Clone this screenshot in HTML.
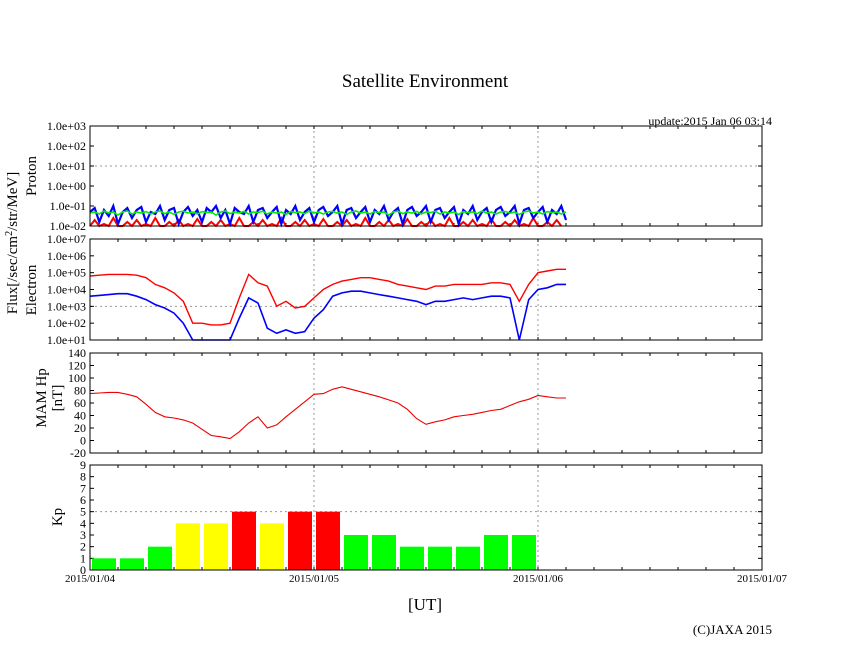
<!DOCTYPE html>
<html><head><meta charset="utf-8"><style>
body{margin:0;background:#fff;}
svg text{font-family:"Liberation Serif",serif;fill:#000;}
</style></head><body>
<svg id="c" width="846" height="655" xmlns="http://www.w3.org/2000/svg">
<text x="425" y="87" font-size="19" text-anchor="middle">Satellite Environment</text>
<text x="772" y="125" font-size="12" text-anchor="end">update:2015 Jan 06 03:14</text>
<text transform="translate(17,243) rotate(-90)" font-size="15" text-anchor="middle">Flux[/sec/cm<tspan dy="-5" font-size="10">2</tspan><tspan dy="5">/str/MeV]</tspan></text>
<text transform="translate(36,176) rotate(-90)" font-size="15" text-anchor="middle">Proton</text>
<text transform="translate(36,290) rotate(-90)" font-size="15" text-anchor="middle">Electron</text>
<text transform="translate(46,398) rotate(-90)" font-size="15" text-anchor="middle">MAM Hp</text>
<text transform="translate(62,398) rotate(-90)" font-size="15" text-anchor="middle">[nT]</text>
<text transform="translate(62,517) rotate(-90)" font-size="15" text-anchor="middle">Kp</text>
<text x="425" y="610" font-size="17" text-anchor="middle">[UT]</text>
<text x="772" y="634" font-size="13" text-anchor="end">(C)JAXA 2015</text>
<g id="g"></g>
</svg>
<script>
const dayLabels=["2015/01/04","2015/01/05","2015/01/06","2015/01/07"];
const protonTicks=["1.0e-02","1.0e-01","1.0e+00","1.0e+01","1.0e+02","1.0e+03"];
const electronTicks=["1.0e+01","1.0e+02","1.0e+03","1.0e+04","1.0e+05","1.0e+06","1.0e+07"];
const mamTicks=[-20,0,20,40,60,80,100,120,140];
const kpTicks=[0,1,2,3,4,5,6,7,8,9];
const mamHp=[75,76,77,77,74,70,58,45,38,36,33,28,18,8,6,3,14,28,38,20,25,38,50,62,74,75,82,86,82,78,74,70,65,60,50,35,26,30,33,38,40,42,45,48,50,56,62,66,72,70,68,68];
const electronRed=[4.8,4.85,4.9,4.9,4.9,4.85,4.7,4.3,4.1,3.8,3.3,2.0,2.0,1.9,1.9,2.0,3.5,4.9,4.4,4.2,3.0,3.3,2.9,3.0,3.5,4.0,4.3,4.5,4.6,4.7,4.7,4.6,4.5,4.3,4.2,4.1,4.0,4.2,4.2,4.3,4.3,4.3,4.3,4.4,4.4,4.3,3.3,4.3,5.0,5.1,5.2,5.2];
const electronBlue=[3.6,3.65,3.7,3.75,3.75,3.6,3.4,3.1,2.9,2.6,2.0,1.0,1.0,1.0,1.0,1.0,2.3,3.5,3.2,1.7,1.4,1.6,1.4,1.5,2.3,2.8,3.6,3.8,3.9,3.9,3.8,3.7,3.6,3.5,3.4,3.3,3.1,3.3,3.3,3.4,3.5,3.4,3.5,3.6,3.6,3.5,1.0,3.4,4.0,4.1,4.3,4.3];
const protonBlue=[-1.3,-1.1,-1.8,-1.2,-1.5,-1.0,-1.9,-1.3,-1.1,-1.6,-1.2,-1.05,-1.8,-1.3,-1.4,-1.0,-1.7,-1.2,-1.1,-1.9,-1.3,-1.05,-1.5,-1.2,-1.8,-1.1,-1.3,-1.0,-1.6,-1.2,-1.9,-1.1,-1.3,-1.4,-1.0,-1.8,-1.2,-1.1,-1.6,-1.3,-1.05,-1.9,-1.2,-1.4,-1.0,-1.7,-1.3,-1.1,-1.8,-1.2,-1.05,-1.5,-1.3,-1.0,-1.9,-1.2,-1.1,-1.6,-1.3,-1.05,-1.8,-1.2,-1.4,-1.0,-1.7,-1.3,-1.1,-1.9,-1.2,-1.05,-1.5,-1.3,-1.0,-1.8,-1.2,-1.1,-1.6,-1.3,-1.05,-1.9,-1.2,-1.4,-1.0,-1.7,-1.3,-1.1,-1.8,-1.2,-1.05,-1.5,-1.3,-1.0,-1.9,-1.2,-1.1,-1.6,-1.3,-1.05,-1.8,-1.2,-1.4,-1.0,-1.7];
const protonGreen=[-1.35,-1.3,-1.4,-1.25,-1.35,-1.3,-1.45,-1.3,-1.25,-1.4,-1.3,-1.35,-1.28,-1.4,-1.3,-1.25,-1.38,-1.3,-1.42,-1.3,-1.26,-1.35,-1.3,-1.4,-1.28,-1.33,-1.3,-1.45,-1.3,-1.25,-1.38,-1.3,-1.35,-1.27,-1.4,-1.3,-1.33,-1.26,-1.4,-1.3,-1.35,-1.3,-1.42,-1.28,-1.33,-1.3,-1.38,-1.25,-1.35,-1.3,-1.4,-1.3,-1.27,-1.36,-1.3,-1.42,-1.3,-1.25,-1.35,-1.3,-1.4,-1.28,-1.33,-1.3,-1.45,-1.3,-1.26,-1.38,-1.3,-1.35,-1.27,-1.4,-1.3,-1.33,-1.26,-1.4,-1.3,-1.35,-1.3,-1.42,-1.28,-1.33,-1.3,-1.38,-1.25,-1.35,-1.3,-1.4,-1.3,-1.27,-1.36,-1.3,-1.42,-1.3,-1.25,-1.35,-1.3,-1.4,-1.28,-1.33,-1.3,-1.4,-1.3];
const protonRed=[-2,-1.7,-2,-1.9,-2,-1.6,-2,-2,-1.8,-2,-1.7,-2,-1.9,-2,-1.6,-2,-2,-1.8,-2,-1.7,-2,-1.9,-2,-1.65,-2,-2,-1.8,-2,-1.7,-2,-1.9,-2,-1.6,-2,-2,-1.8,-2,-1.7,-2,-1.9,-2,-1.6,-2,-2,-1.8,-2,-1.7,-2,-1.9,-2,-1.65,-2,-2,-1.8,-2,-1.7,-2,-1.9,-2,-1.6,-2,-2,-1.8,-2,-1.7,-2,-1.9,-2,-1.65,-2,-2,-1.8,-2,-1.7,-2,-1.9,-2,-1.6,-2,-2,-1.8,-2,-1.7,-2,-1.9,-2,-1.65,-2,-2,-1.8,-2,-1.7,-2,-1.9,-2,-1.6,-2,-2,-1.8,-2,-1.7,-2];
const kpValues=[1,1,2,4,4,5,4,5,5,3,3,2,2,2,3,3];

const NS="http://www.w3.org/2000/svg";
const g=document.getElementById('g');
const X0=90,X1=762,DAYS=3;
const xh=h=>X0+h*(X1-X0)/(DAYS*24);
function mk(tag,attrs,parent){const e=document.createElementNS(NS,tag);for(const k in attrs)e.setAttribute(k,attrs[k]);(parent||g).appendChild(e);return e;}
const panels=[
 {name:'proton',top:126,bot:226,min:-2,max:3,ticks:protonTicks,grid:[1]},
 {name:'electron',top:239,bot:340,min:1,max:7,ticks:electronTicks,grid:[3]},
 {name:'mam',top:353,bot:453,min:-20,max:140,ticks:mamTicks,grid:[]},
 {name:'kp',top:465,bot:570,min:0,max:9,ticks:kpTicks,grid:[5]}
];
panels.forEach(p=>{p.y=v=>p.bot-(v-p.min)/(p.max-p.min)*(p.bot-p.top);});
function line(p,arr,step,color,name,w){
 const pts=arr.map((v,i)=>xh(i*step).toFixed(1)+','+p.y(Math.max(p.min,v)).toFixed(1)).join(' ');
 const e=mk('polyline',{points:pts,fill:'none',stroke:color,'stroke-width':w||1.1});
 
 
}
panels.forEach(p=>{
 const pg=mk('g',{});
 
 
 p.grid.forEach(v=>{const e=mk('line',{x1:X0,x2:X1,y1:p.y(v),y2:p.y(v),stroke:'#999','stroke-dasharray':'2,3'},pg);
  
  });
 for(let d=1;d<DAYS;d++){const e=mk('line',{x1:xh(d*24),x2:xh(d*24),y1:p.top,y2:p.bot,stroke:'#999','stroke-dasharray':'2,3'},pg);
  
  }
 p.ticks.forEach((t,i)=>{const v=(p.name==='proton'||p.name==='electron')?p.min+i:t;const yy=p.y(v);
  const tx=mk('text',{x:86,y:yy+4,'font-size':12,'text-anchor':'end'},pg);tx.textContent=t;
  
  
  mk('line',{x1:X0,x2:X0+4,y1:yy,y2:yy,stroke:'#000'},pg);
  mk('line',{x1:X1-4,x2:X1,y1:yy,y2:yy,stroke:'#000'},pg);});
 for(let h=3;h<DAYS*24;h+=3){mk('line',{x1:xh(h),x2:xh(h),y1:p.top,y2:p.top+3,stroke:'#000'},pg);mk('line',{x1:xh(h),x2:xh(h),y1:p.bot-3,y2:p.bot,stroke:'#000'},pg);}
});
const [pp,pe,pm,pk]=panels;
line(pp,protonRed,0.5,'#f00','proton-red-series',2);
line(pp,protonBlue,0.5,'#00f','proton-blue-series',2.2);
line(pp,protonGreen,0.5,'#0e0','proton-green-series',1.6);
line(pe,electronRed,1,'#f00','electron-red-series',1.4);
line(pe,electronBlue,1,'#00f','electron-blue-series',1.6);
line(pm,mamHp,1,'#e00','mam-hp-series',1.1);
kpValues.forEach((v,i)=>{const c=v>=5?'#f00':v>=4?'#ff0':'#0f0';
 const r=mk('rect',{x:xh(i*3)+2,y:pk.y(v),width:xh(3)-X0-4,height:pk.bot-pk.y(v),fill:c});
 
 });
panels.forEach(p=>{const r=mk('rect',{x:X0,y:p.top,width:X1-X0,height:p.bot-p.top,fill:'none',stroke:'#000','stroke-width':1});
 
 });
dayLabels.forEach((t,d)=>{const tx=mk('text',{x:xh(d*24),y:582,'font-size':11,'text-anchor':'middle'});tx.textContent=t;
 
 });
</script>
</body></html>
